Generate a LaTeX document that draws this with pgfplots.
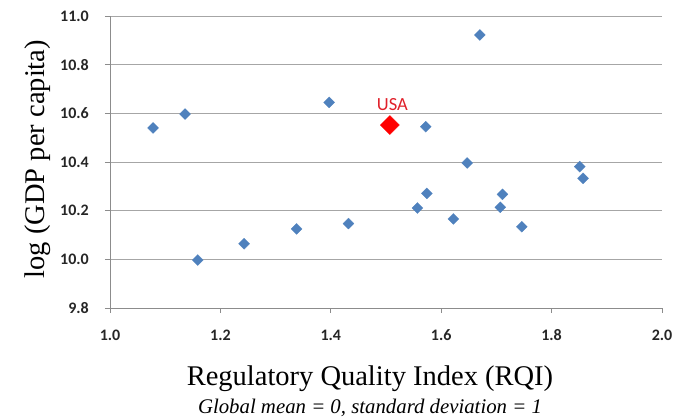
\documentclass[border=0pt]{standalone}
\usepackage{fontspec}
\setmainfont{Liberation Serif}
\newfontfamily\calibri{Carlito}
\usepackage{pgfplots}
\pgfplotsset{compat=1.18}
\definecolor{ptblue}{HTML}{4F81BD}
\definecolor{gridgray}{HTML}{A6A6A6}
\definecolor{axgray}{HTML}{8C8C8C}
\definecolor{tickcol}{HTML}{262626}
\definecolor{usared}{HTML}{E0202A}
\begin{document}
\begin{tikzpicture}
\path[use as bounding box] (-110pt,-112pt) rectangle (565pt,308pt);
\begin{axis}[
  at={(0,0)}, anchor=south west,
  scale only axis, width=552pt, height=292pt,
  xmin=1, xmax=2, ymin=9.8, ymax=11,
  xtick={1,1.2,1.4,1.6,1.8,2},
  ytick={9.8,10,10.2,10.4,10.6,10.8,11},
  axis x line*=bottom, axis y line*=left,
  axis line style={axgray, line width=0.8pt, -},
  ymajorgrids, major grid style={gridgray, line width=0.8pt},
  tick align=outside, major tick length=5pt,
  tick style={axgray, line width=0.8pt},
  xticklabel style={font=\calibri\bfseries\fontsize{16}{18}\selectfont, text=tickcol, anchor=base, inner sep=0pt, yshift=-27.5pt},
  yticklabel style={font=\calibri\bfseries\fontsize{16}{18}\selectfont, text=tickcol, anchor=east, inner sep=0pt, xshift=-16pt},
  xticklabel={\pgfmathprintnumber[fixed,fixed zerofill,precision=1,assume math mode=true]{\tick}},
  yticklabel={\pgfmathprintnumber[fixed,fixed zerofill,precision=1,assume math mode=true]{\tick}},
  xlabel={Regulatory Quality Index (RQI)},
  xlabel style={at={(axis description cs:0.471,-0.2671)}, anchor=base, font=\fontsize{28.5}{30}\selectfont},
  ylabel={log (GDP per capita)},
  ylabel style={at={(axis description cs:-0.1178,0.51)}, anchor=base, font=\fontsize{28.5}{30}\selectfont},
  clip=false,
]
\addplot[only marks, mark=square*, mark size=3.9pt, mark options={rotate=45, fill=ptblue, draw=ptblue, line width=0.2pt}] table {
x y
1.078 10.540
1.136 10.597
1.159 9.997
1.243 10.064
1.338 10.125
1.397 10.645
1.432 10.147
1.557 10.211
1.572 10.545
1.574 10.271
1.622 10.166
1.647 10.396
1.670 10.922
1.707 10.214
1.711 10.267
1.746 10.134
1.851 10.381
1.857 10.333
};
\addplot[only marks, mark=square*, mark size=6.8pt, mark options={rotate=45, fill=red, draw=red, line width=0.2pt}] coordinates {(1.507,10.552)};
\node[anchor=base, text=usared, font=\calibri\fontsize{18.5}{20}\selectfont, xshift=2.5pt, yshift=15pt] at (axis cs:1.507,10.552) {USA};
\node[anchor=base, font=\itshape\fontsize{20.8}{22}\selectfont] at (axis description cs:0.471,-0.363) {Global mean = 0, standard deviation = 1};
\end{axis}
\end{tikzpicture}
\end{document}
